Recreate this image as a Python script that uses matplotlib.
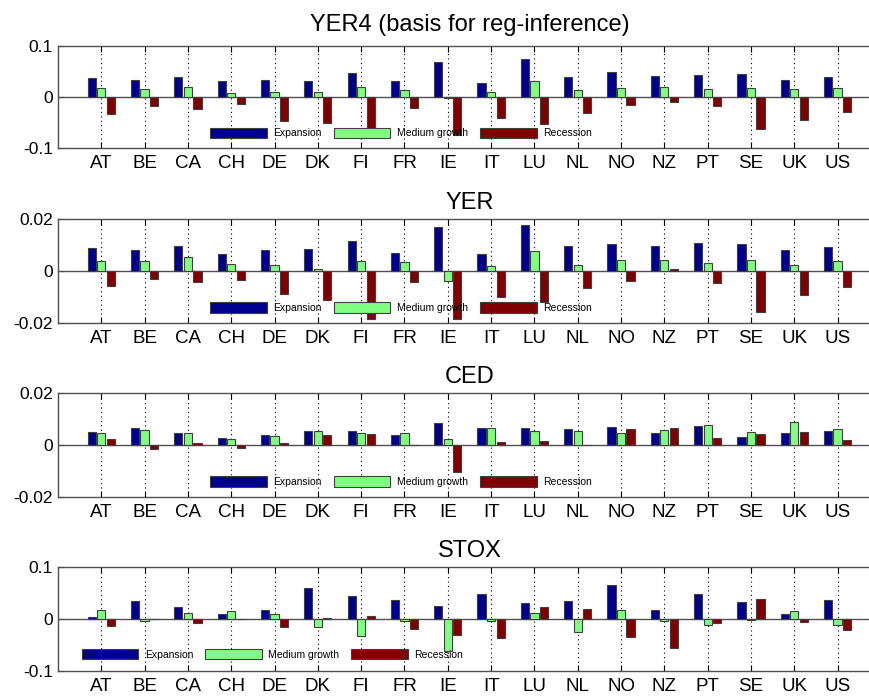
import numpy as np
import matplotlib.pyplot as plt

plt.rcParams['font.family'] = ['Liberation Sans', 'DejaVu Sans']

# country labels
countries = ['AT', 'BE', 'CA', 'CH', 'DE', 'DK', 'FI', 'FR', 'IE',
             'IT', 'LU', 'NL', 'NO', 'NZ', 'PT', 'SE', 'UK', 'US']
regimes = ['Expansion', 'Medium growth', 'Recession']

# YER4
yer4_exp = [0.037, 0.034, 0.040, 0.031, 0.034, 0.032, 0.046, 0.031, 0.068,
            0.028, 0.075, 0.039, 0.048, 0.041, 0.043, 0.044, 0.033, 0.039]
yer4_med = [0.018, 0.016, 0.020, 0.007, 0.009, 0.009, 0.020, 0.014, -0.001,
            0.009, 0.031, 0.014, 0.018, 0.020, 0.016, 0.018, 0.016, 0.018]
yer4_rec = [-0.033, -0.018, -0.023, -0.014, -0.047, -0.051, -0.060, -0.022, -0.074,
            -0.041, -0.052, -0.031, -0.016, -0.009, -0.018, -0.062, -0.045, -0.029]

# YER
yer_exp = [0.0089, 0.0081, 0.0099, 0.0068, 0.0081, 0.0085, 0.0116, 0.0072, 0.0170,
           0.0065, 0.0178, 0.0099, 0.0106, 0.0099, 0.0110, 0.0106, 0.0081, 0.0095]
yer_med = [0.0039, 0.0041, 0.0054, 0.0027, 0.0023, 0.0010, 0.0041, 0.0034, -0.0036,
           0.0019, 0.0079, 0.0026, 0.0045, 0.0045, 0.0031, 0.0045, 0.0026, 0.0041]
yer_rec = [-0.0057, -0.0028, -0.0043, -0.0032, -0.0088, -0.0111, -0.0182, -0.0043, -0.0183,
           -0.0098, -0.0119, -0.0063, -0.0036, 0.0008, -0.0046, -0.0156, -0.0090, -0.0059]

# CED
ced_exp = [0.0048, 0.0065, 0.0045, 0.0028, 0.0038, 0.0052, 0.0052, 0.0038, 0.0085,
           0.0065, 0.0065, 0.0061, 0.0069, 0.0045, 0.0071, 0.0031, 0.0047, 0.0055]
ced_med = [0.0045, 0.0056, 0.0045, 0.0022, 0.0034, 0.0052, 0.0045, 0.0045, 0.0022,
           0.0064, 0.0055, 0.0055, 0.0047, 0.0057, 0.0075, 0.0048, 0.0088, 0.0060]
ced_rec = [0.0024, -0.0017, 0.0006, -0.0010, 0.0006, 0.0038, 0.0041, 0.0, -0.0102,
           0.0010, 0.0017, 0.0, 0.0061, 0.0064, 0.0027, 0.0041, 0.0051, 0.0020]

# STOX
stox_exp = [0.0032, 0.034, 0.0224, 0.0083, 0.016, 0.0596, 0.043, 0.0359, 0.0237,
            0.0474, 0.0308, 0.034, 0.0647, 0.0173, 0.0474, 0.0327, 0.0083, 0.0359]
stox_med = [0.0173, -0.0051, 0.0103, 0.0154, 0.0083, -0.016, -0.0327, -0.0051, -0.0628,
            -0.0051, 0.0103, -0.0263, 0.0167, -0.0051, -0.0128, -0.0026, 0.0141, -0.0128]
stox_rec = [-0.0141, 0.0, -0.009, 0.0, -0.016, 0.0019, 0.0051, -0.0205, -0.0314,
            -0.0378, 0.0224, 0.0186, -0.0359, -0.0564, -0.009, 0.0378, -0.007, -0.0224]

panels = [
    ('YER4 (basis for reg-inference)', [yer4_exp, yer4_med, yer4_rec], 0.1, ['-0.1', '0', '0.1']),
    ('YER', [yer_exp, yer_med, yer_rec], 0.02, ['-0.02', '0', '0.02']),
    ('CED', [ced_exp, ced_med, ced_rec], 0.02, ['-0.02', '0', '0.02']),
    ('STOX', [stox_exp, stox_med, stox_rec], 0.1, ['-0.1', '0', '0.1']),
]

colors = ['#00008f', '#80ff80', '#800000']
offsets = [-0.22, 0.0, 0.22]
bar_w = 0.19

# axes placement (figure fractions), right edge runs off the figure like the original
bottoms = [0.7875, 0.5368, 0.2875, 0.0390]
heights = [0.147, 0.149, 0.150, 0.149]
title_pads = [10.8, 7.2, 6.8, 6.8]
leg_x = [0.1847, 0.1847, 0.1847, 0.0288]
leg_y = [0.149, 0.149, 0.149, 0.160]

fig = plt.figure(figsize=(8.69, 6.98), dpi=100)
x = np.arange(1, len(countries) + 1)

for k, (title, series, lim, ylabels) in enumerate(panels):
    ax = fig.add_axes([0.0667, bottoms[k], 0.947, heights[k]])
    for j in range(3):
        ax.bar(x + offsets[j], series[j], width=bar_w, color=colors[j],
               edgecolor='#404040', linewidth=0.8, label=regimes[j], zorder=3)
    ax.axhline(0, color='#505050', linewidth=1.0, zorder=2)
    ax.set_xlim(0, 19)
    ax.set_ylim(-lim, lim)
    ax.set_xticks(x)
    ax.set_xticklabels(countries, fontsize=13.5)
    ax.set_yticks([-lim, 0, lim])
    ax.set_yticklabels(ylabels, fontsize=12.5)
    ax.tick_params(axis='both', direction='in', length=4.5, width=0.8,
                   top=True, right=True, colors='#202020')
    ax.tick_params(axis='x', pad=5, colors='k')
    ax.tick_params(axis='y', pad=3.6, colors='k')
    ax.grid(axis='x', linestyle=(0, (1, 3)), color='k', linewidth=0.8)
    ax.set_axisbelow(True)
    for s in ax.spines.values():
        s.set_color('#505050')
        s.set_linewidth(1.0)
    ax.set_title(title, fontsize=17, pad=title_pads[k])
    ax.legend(ncol=3, loc='center left', bbox_to_anchor=(leg_x[k], leg_y[k]),
              frameon=False, fontsize=7.5, handlelength=5.45, handleheight=1.2,
              handletextpad=0.6, columnspacing=1.17, borderpad=0, borderaxespad=0)

fig.savefig('out.png', dpi=100)
